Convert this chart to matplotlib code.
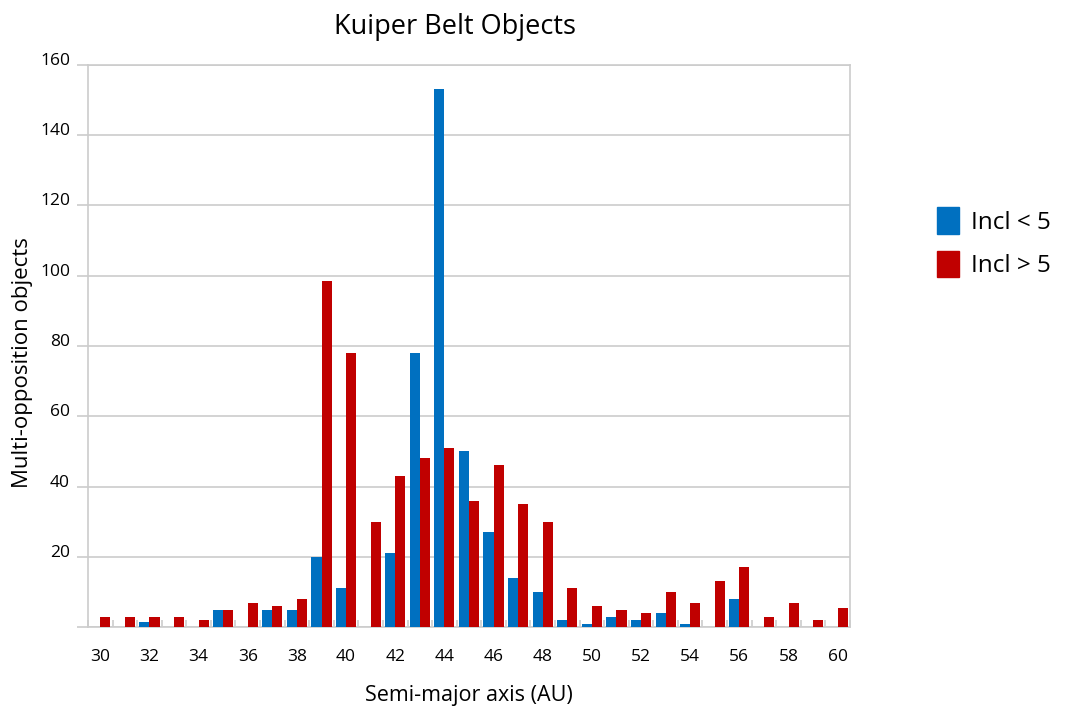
import numpy as np
from matplotlib import pyplot as plt
from matplotlib.patches import Patch

plt.rcParams["font.family"] = ["Open Sans", "DejaVu Sans"]

# semi-major axis bins (AU)
axis_au = list(range(30, 61))
incl_low = [0, 0, 1.5, 0, 0, 5, 0, 5, 5, 20, 11, 0, 21, 78, 153, 50,
            27, 14, 10, 2, 1, 3, 2, 4, 1, 0, 8, 0, 0, 0, 0]
incl_high = [3, 3, 3, 3, 2, 5, 7, 6, 8, 98.5, 78, 30, 43, 48, 51, 36,
             46, 35, 30, 11, 6, 5, 4, 10, 7, 13, 17, 3, 7, 2, 5.5]
tick_labels = [str(v) for v in range(30, 61, 2)]

BLUE = "#0070c0"
RED = "#c00000"
GRID = "#cccccc"


def plot():
    fig = plt.figure(figsize=(10.8, 7.2), dpi=100)
    ax = fig.add_axes([0.0815, 0.129, 0.7055, 0.781])

    x = np.arange(len(axis_au))
    w = 0.41
    ax.bar(x - w / 2, incl_low, width=w, color=BLUE, zorder=3)
    ax.bar(x + w / 2, incl_high, width=w, color=RED, zorder=3)

    ax.set_xlim(-0.5, len(axis_au) - 0.5)
    ax.set_ylim(0, 160)
    ax.set_yticks(range(0, 161, 20))
    ax.set_yticklabels([""] + [str(v) for v in range(20, 161, 20)])
    ax.set_xticks(x[::2])
    ax.set_xticklabels(tick_labels)
    ax.set_xticks(np.arange(len(axis_au) + 1) - 0.5, minor=True)

    ax.grid(axis="y", color=GRID, linewidth=1.2, zorder=0)
    for s in ax.spines.values():
        s.set_color(GRID)
        s.set_linewidth(1.2)

    ax.tick_params(axis="y", length=8, color=GRID, width=1.2,
                   labelsize=12.5, pad=5)
    ax.tick_params(axis="x", which="major", length=0, labelsize=12.5, pad=16)
    ax.tick_params(axis="x", which="minor", direction="in", length=5,
                   color=GRID, width=1.2)
    for lbl in ax.get_yticklabels():
        lbl.set_verticalalignment("baseline")

    ax.set_xlabel("Semi-major axis (AU)", fontsize=15.5, labelpad=14)
    ax.set_ylabel("Multi-opposition objects", fontsize=16)
    ax.yaxis.set_label_coords(-0.072, 0.47)
    fig.text(0.421, 0.963, "Kuiper Belt Objects", fontsize=19.5,
             ha="center", va="center")

    handles = [Patch(color=BLUE, label="Incl < 5"),
               Patch(color=RED, label="Incl > 5")]
    fig.legend(handles=handles, loc="center left",
               bbox_to_anchor=(0.8475, 0.663), frameon=False, fontsize=17.5,
               handlelength=0.88, handleheight=1.3, handletextpad=0.5,
               labelspacing=0.65)

    fig.savefig("out.png", dpi=100)


def main():
    plot()


if __name__ == "__main__":
    main()
